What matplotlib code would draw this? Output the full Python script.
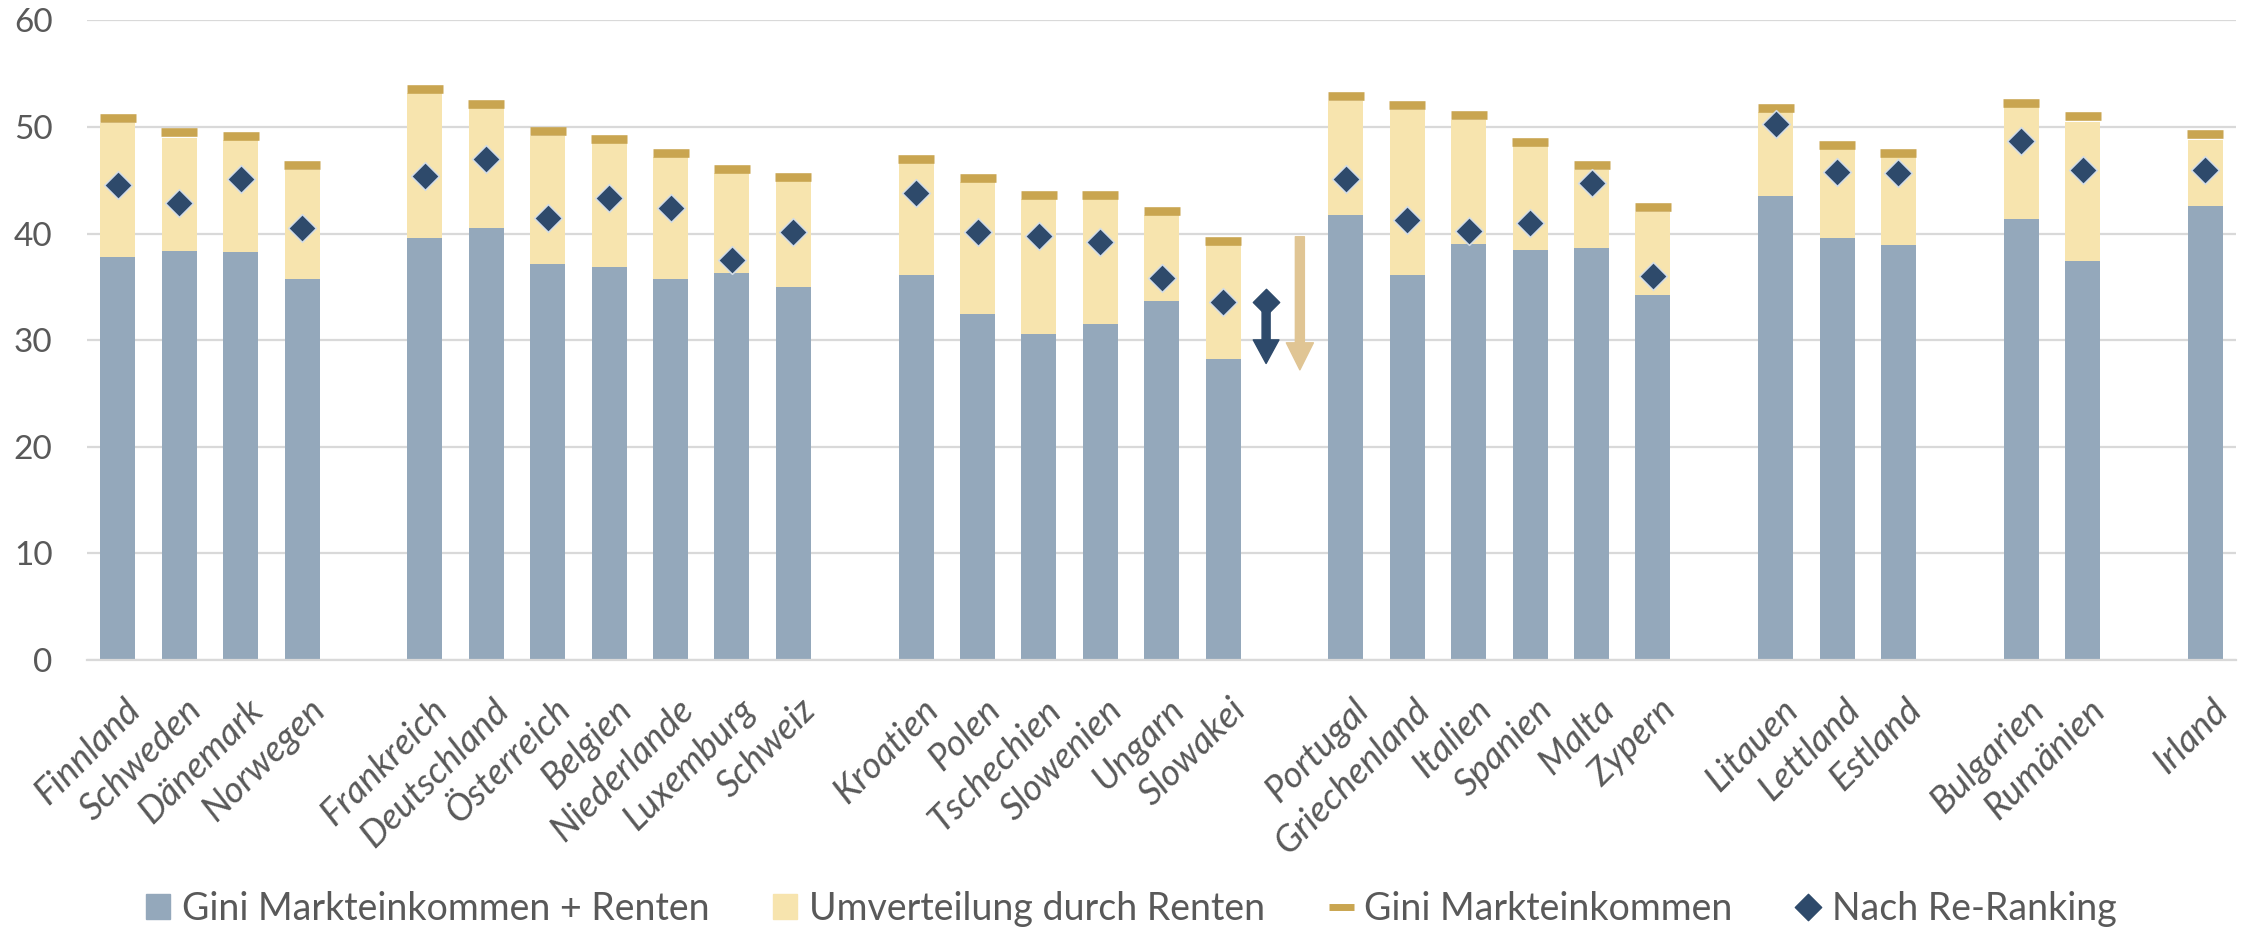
import numpy as np
import matplotlib
matplotlib.use("Agg")
import matplotlib.pyplot as plt
import matplotlib.transforms as mtransforms
from matplotlib.path import Path
from matplotlib.lines import Line2D
from matplotlib.patches import Patch

plt.rcParams['font.family'] = ['Lato', 'DejaVu Sans']

# country groups, separated by one empty slot each
groups = [
    ['Finnland', 'Schweden', 'Dänemark', 'Norwegen'],
    ['Frankreich', 'Deutschland', 'Österreich', 'Belgien', 'Niederlande', 'Luxemburg', 'Schweiz'],
    ['Kroatien', 'Polen', 'Tschechien', 'Slowenien', 'Ungarn', 'Slowakei'],
    ['Portugal', 'Griechenland', 'Italien', 'Spanien', 'Malta', 'Zypern'],
    ['Litauen', 'Lettland', 'Estland'],
    ['Bulgarien', 'Rumänien'],
    ['Irland'],
]

# Gini Markteinkommen + Renten (blue bar)
gini_mkt_renten = [37.8, 38.4, 38.3, 35.7,
                   39.6, 40.5, 37.1, 36.9, 35.7, 36.3, 35.0,
                   36.1, 32.4, 30.6, 31.5, 33.7, 28.2,
                   41.7, 36.1, 39.0, 38.5, 38.6, 34.2,
                   43.5, 39.6, 38.9,
                   41.4, 37.4,
                   42.6]
# Umverteilung durch Renten (yellow bar, stacked)
umverteilung = [12.6, 10.6, 10.5, 10.3,
                13.6, 11.3, 12.1, 11.6, 11.5, 9.4, 9.9,
                10.5, 12.4, 12.6, 11.7, 8.0, 10.7,
                10.7, 15.5, 11.7, 9.7, 7.4, 7.8,
                7.9, 8.3, 8.3,
                10.5, 13.1,
                6.2]
# Gini Markteinkommen (gold dash)
gini_mkt = [50.8, 49.5, 49.2, 46.4,
            53.6, 52.2, 49.6, 48.9, 47.6, 46.1, 45.3,
            47.0, 45.2, 43.6, 43.6, 42.1, 39.3,
            52.9, 52.1, 51.1, 48.6, 46.4, 42.5,
            51.8, 48.3, 47.6,
            52.3, 51.0,
            49.3]
# Nach Re-Ranking (diamond)
re_ranking = [44.6, 42.9, 45.1, 40.5,
              45.4, 47.0, 41.5, 43.3, 42.4, 37.5, 40.1,
              43.8, 40.1, 39.8, 39.2, 35.8, 33.6,
              45.1, 41.3, 40.2, 41.0, 44.7, 36.0,
              50.3, 45.8, 45.7,
              48.7, 46.0,
              46.0]

c_blue = '#94A8BB'
c_yellow = '#F7E4AE'
c_gold = '#C9A550'
c_navy = '#2E4A6B'
c_tan = '#E0C594'
c_text = '#595959'
c_grid = '#D9D9D9'

# x positions with a gap between groups
countries, pos = [], []
x = 0
for g in groups:
    for c in g:
        countries.append(c)
        pos.append(x)
        x += 1
    x += 1
pos = np.array(pos)

diamond = Path([(0, 1), (1, 0), (0, -1), (-1, 0), (0, 1)],
               [Path.MOVETO, Path.LINETO, Path.LINETO, Path.LINETO, Path.CLOSEPOLY])

fig = plt.figure(figsize=(22.49, 9.31), dpi=100)
ax = fig.add_axes([0.0388, 0.2915, 0.9555, 0.6865])

w = 0.57
ax.bar(pos, gini_mkt_renten, width=w, color=c_blue, zorder=2)
ax.bar(pos, umverteilung, width=w, bottom=gini_mkt_renten, color=c_yellow, zorder=2)
ax.plot(pos, gini_mkt, ls='none', marker='_', ms=26.4, mew=6.2, color=c_gold, zorder=3)
ax.plot(pos, re_ranking, ls='none', marker=diamond, ms=20, color=c_navy,
        mec='#D3DCE6', mew=1.1, zorder=4)

# explanatory arrows in the gap after Slowakei
i_sk = countries.index('Slowakei')
x_dark = pos[i_sk] + 0.70
x_tan = pos[i_sk] + 1.25
ax.annotate('', xy=(x_dark, gini_mkt_renten[i_sk] - 0.4), xytext=(x_dark, re_ranking[i_sk]),
            arrowprops=dict(arrowstyle='simple,head_length=17,head_width=18.5,tail_width=5.8',
                            mutation_scale=1, color=c_navy, shrinkA=0, shrinkB=0), zorder=4)
ax.plot([x_dark], [re_ranking[i_sk]], ls='none', marker=diamond, ms=19, color=c_navy, zorder=5)
ax.annotate('', xy=(x_tan, gini_mkt_renten[i_sk] - 1.0), xytext=(x_tan, gini_mkt[i_sk] + 0.4),
            arrowprops=dict(arrowstyle='simple,head_length=19.5,head_width=19.5,tail_width=6.5',
                            mutation_scale=1, color=c_tan, shrinkA=0, shrinkB=0), zorder=4)

ax.set_xlim(-0.5, pos[-1] + 0.5)
ax.set_ylim(0, 60)
ax.set_yticks(range(0, 61, 10))
ax.yaxis.grid(True, color=c_grid, lw=1.6, zorder=0)
ax.set_axisbelow(True)
for s in ['top', 'right', 'left']:
    ax.spines[s].set_visible(False)
ax.spines['bottom'].set_color(c_grid)
ax.spines['bottom'].set_linewidth(1.6)
ax.tick_params(axis='both', length=0, labelcolor=c_text)
ax.tick_params(axis='y', pad=25, labelsize=24)
ax.tick_params(axis='x', pad=24, labelsize=26.5)

ax.set_xticks(pos)
ax.set_xticklabels(countries, rotation=45, ha='right', va='top',
                   rotation_mode='anchor', fontstyle='italic')
offset = mtransforms.ScaledTranslation(4 / 72, 0, fig.dpi_scale_trans)
for lab in ax.get_xticklabels():
    lab.set_transform(lab.get_transform() + offset)

handles = [
    Patch(color=c_blue, label='Gini Markteinkommen + Renten'),
    Patch(color=c_yellow, label='Umverteilung durch Renten'),
    Line2D([], [], ls='none', marker='_', ms=18, mew=5, color=c_gold, label='Gini Markteinkommen'),
    Line2D([], [], ls='none', marker=diamond, ms=19, color=c_navy, label='Nach Re-Ranking'),
]
fig.legend(handles=handles, loc='center', bbox_to_anchor=(0.503, 0.024), ncol=4,
           frameon=False, fontsize=27, labelcolor=c_text, handlelength=0.65,
           handleheight=0.65, handletextpad=0.3, columnspacing=1.7)

fig.savefig('out.png', dpi=100)
